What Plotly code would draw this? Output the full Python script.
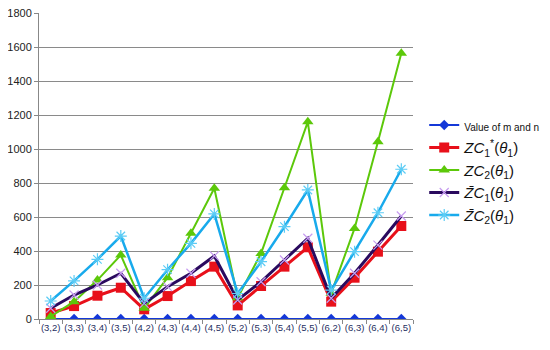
import plotly.graph_objects as go

categories = ["(3,2)", "(3,3)", "(3,4)", "(3,5)", "(4,2)", "(4,3)", "(4,4)", "(4,5)",
              "(5,2)", "(5,3)", "(5,4)", "(5,5)", "(6,2)", "(6,3)", "(6,4)", "(6,5)"]
value_mn = [0] * 16
zc1_star = [35, 76, 137, 184, 57, 135, 223, 308, 80, 194, 308, 422, 102, 243, 396, 547]
zc2 = [15, 102, 229, 376, 63, 243, 504, 769, 125, 386, 772, 1160, 151, 533, 1043, 1563]
zc1_bar = [63, 141, 200, 269, 92, 190, 269, 371, 112, 219, 347, 475, 122, 269, 435, 606]
zc2_bar = [106, 224, 351, 488, 122, 290, 445, 618, 150, 337, 543, 759, 170, 396, 625, 881]
y_ticks = [0, 200, 400, 600, 800, 1000, 1200, 1400, 1600, 1800]

names = [
    '<span style="font-size:10px">Value of m and n</span>',
    '<i>ZC</i><sub>1</sub><sup>*</sup>(<i>θ</i><sub>1</sub>)',
    '<i>ZC</i><sub>2</sub>(<i>θ</i><sub>1</sub>)',
    '<i>Z̄C</i><sub>1</sub>(<i>θ</i><sub>1</sub>)',
    '<i>Z̄C</i><sub>2</sub>(<i>θ</i><sub>1</sub>)',
]

fig = go.Figure()
fig.add_trace(go.Scatter(x=categories, y=value_mn, name=names[0], mode="lines+markers",
                         line=dict(color="#1438D8", width=2),
                         marker=dict(symbol="diamond", size=8, color="#1438D8")))
fig.add_trace(go.Scatter(x=categories, y=zc1_star, name=names[1], mode="lines+markers",
                         line=dict(color="#E8101A", width=3),
                         marker=dict(symbol="square", size=10, color="#E8101A")))
fig.add_trace(go.Scatter(x=categories, y=zc2, name=names[2], mode="lines+markers",
                         line=dict(color="#5CC80A", width=2),
                         marker=dict(symbol="triangle-up", size=10, color="#5CC80A")))
fig.add_trace(go.Scatter(x=categories, y=zc1_bar, name=names[3], mode="lines+markers",
                         line=dict(color="#2A0A5E", width=3),
                         marker=dict(symbol="x-thin-open", size=9,
                                     line=dict(color="#C79CF0", width=1.2), color="#C79CF0")))
fig.add_trace(go.Scatter(x=categories, y=zc2_bar, name=names[4], mode="lines+markers",
                         line=dict(color="#18AAEC", width=2.5),
                         marker=dict(symbol="asterisk-open", size=10,
                                     line=dict(color="#5CCCF5", width=1.2), color="#5CCCF5")))

# the page body adds an 8px offset, so the figure is sized to fit the 550x350 window
fig.update_layout(
    width=542, height=342,
    margin=dict(l=31, r=137, t=5, b=31, autoexpand=False),
    paper_bgcolor="white", plot_bgcolor="white",
    font=dict(family="Liberation Sans", color="#222222"),
    showlegend=True,
    legend=dict(x=1.03, xanchor="left", y=0.486, yanchor="middle",
                font=dict(size=15, color="#111111"), tracegroupgap=0,
                itemwidth=30, bgcolor="rgba(0,0,0,0)"),
)
fig.update_xaxes(type="category", range=[-0.5, 15.5], showgrid=False, automargin=False,
                 showline=True, linecolor="#888888", linewidth=1,
                 ticks="outside", tickson="boundaries", ticklen=4, tickcolor="#888888",
                 tickangle=0, ticklabeloverflow="allow",
                 tickfont=dict(family="Liberation Sans Narrow, Liberation Sans", size=9.5,
                               color="#1F2F5F"))
fig.update_yaxes(range=[0, 1800], tickvals=y_ticks, showgrid=True, gridcolor="#8A8A8A",
                 gridwidth=1, showline=True, linecolor="#888888", linewidth=1,
                 automargin=False, ticklabeloverflow="allow",
                 ticks="outside", ticklen=4, tickcolor="#888888", zeroline=False,
                 tickfont=dict(size=11, color="#222222"))

fig.write_html("out.html")
